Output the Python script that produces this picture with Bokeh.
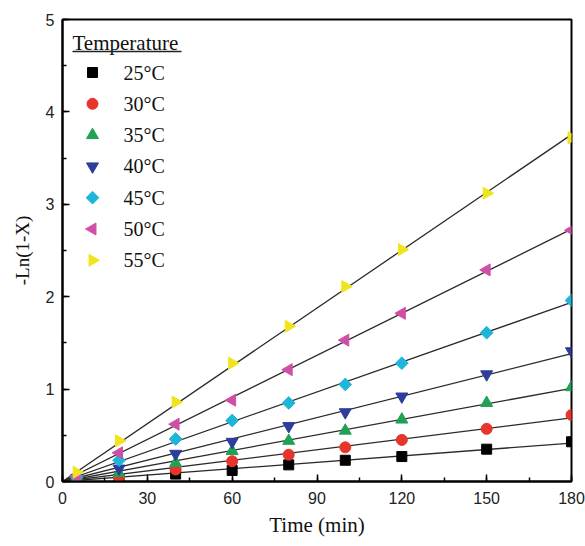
import numpy as np
from bokeh.plotting import figure
from bokeh.models import SingleIntervalTicker, Range1d
from bokeh.core.properties import value
from bokeh.embed import file_html
from bokeh.resources import INLINE

time_min = [5, 20, 40, 60, 80, 100, 120, 150, 180]
labels = ["25°C", "30°C", "35°C", "40°C", "45°C", "50°C", "55°C"]
t25 = [0.01, 0.03, 0.08, 0.12, 0.18, 0.23, 0.27, 0.35, 0.43]
t30 = [0.02, 0.05, 0.13, 0.22, 0.29, 0.37, 0.45, 0.57, 0.72]
t35 = [0.03, 0.09, 0.20, 0.33, 0.44, 0.55, 0.67, 0.85, 1.02]
t40 = [0.04, 0.14, 0.30, 0.43, 0.60, 0.75, 0.92, 1.16, 1.41]
t45 = [0.05, 0.23, 0.46, 0.66, 0.85, 1.05, 1.28, 1.61, 1.96]
t50 = [0.06, 0.31, 0.62, 0.88, 1.21, 1.53, 1.82, 2.29, 2.72]
t55 = [0.10, 0.44, 0.86, 1.28, 1.68, 2.11, 2.51, 3.12, 3.72]
series = [t25, t30, t35, t40, t45, t50, t55]
legend_title = "Temperature"
colors = ["#000000", "#e8352b", "#20a255", "#2c3d9c", "#1eb6d8", "#d04fa6", "#f0e41e"]
markers = ["square", "circle", "triangle", "inverted_triangle", "square", "triangle", "triangle"]
angles = [0, 0, 0, 0, np.pi / 4, np.pi / 2, -np.pi / 2]
sizes = [10, 11, 12, 12, 9, 12, 12]

W, H = 585, 546
BL, BR, BT, BB = 62, 14, 19, 65
FW, FH = W - BL - BR, H - BT - BB

p = figure(width=W, height=H, x_range=(0, 180), y_range=(0, 5),
           output_backend="svg", toolbar_location=None,
           min_border_left=BL, min_border_right=BR, min_border_top=BT, min_border_bottom=BB)
p.extra_x_ranges = {"px": Range1d(0, FW)}
p.extra_y_ranges = {"py": Range1d(0, FH)}
p.xgrid.visible = False
p.ygrid.visible = False
p.outline_line_color = "black"
p.outline_line_width = 2
p.outline_line_alpha = 1

t = np.array(time_min, dtype=float)
tline = np.array([0.0, 180.0])
for ys in series:
    y = np.array(ys)
    k = float(np.sum(t * y) / np.sum(t * t))
    p.line(tline, k * tline, line_color="#2a2a2a", line_width=1.3)
for ys, c, m, a, s in zip(series, colors, markers, angles, sizes):
    p.scatter(time_min, ys, marker=m, angle=a, size=s, fill_color=c, line_color=c)

# manual legend (pixel coordinates inside the frame)
n = len(labels)
top_px = FH - (72 - BT)
step = 31.3
ly = [top_px - i * step for i in range(n)]
for i in range(n):
    p.scatter([30], [ly[i]], marker=markers[i], angle=angles[i], size=sizes[i],
              fill_color=colors[i], line_color=colors[i],
              x_range_name="px", y_range_name="py")
p.text(x=[61] * n, y=ly, text=labels, text_font=value("Liberation Serif"),
       text_font_size="20px", text_baseline="middle", text_align="left",
       text_color="#111111", x_range_name="px", y_range_name="py")
p.text(x=[10], y=[FH - (42 - BT)], text=[legend_title], text_font=value("Liberation Serif"),
       text_font_size="21px", text_baseline="middle", text_align="left",
       text_color="#111111", x_range_name="px", y_range_name="py")
p.segment(x0=[10], y0=[FH - (51 - BT)], x1=[119], y1=[FH - (51 - BT)],
          line_color="#222222", line_width=1.5, x_range_name="px", y_range_name="py")

p.xaxis.ticker = SingleIntervalTicker(interval=30, num_minor_ticks=2)
p.yaxis.ticker = SingleIntervalTicker(interval=1, num_minor_ticks=2)
for ax in (p.xaxis[0], p.yaxis[0]):
    ax.axis_line_width = 2
    ax.major_tick_in = 7
    ax.major_tick_out = 0
    ax.minor_tick_in = 4
    ax.minor_tick_out = 0
    ax.major_tick_line_width = 1.5
    ax.minor_tick_line_width = 1.5
    ax.major_label_text_font = "Liberation Sans"
    ax.major_label_text_font_size = "16px"
    ax.major_label_text_color = "#222222"
    ax.axis_label_text_font = "Liberation Serif"
    ax.axis_label_text_font_style = "normal"
    ax.axis_label_text_color = "#111111"
p.xaxis.axis_label = "Time (min)"
p.yaxis.axis_label = "-Ln(1-X)"
p.xaxis.axis_label_text_font_size = "21px"
p.yaxis.axis_label_text_font_size = "19px"
p.xaxis.major_label_standoff = 10
p.yaxis.major_label_standoff = 8
p.xaxis.axis_label_standoff = 6
p.yaxis.axis_label_standoff = 10

open("out.html", "w").write(file_html(p, INLINE))
